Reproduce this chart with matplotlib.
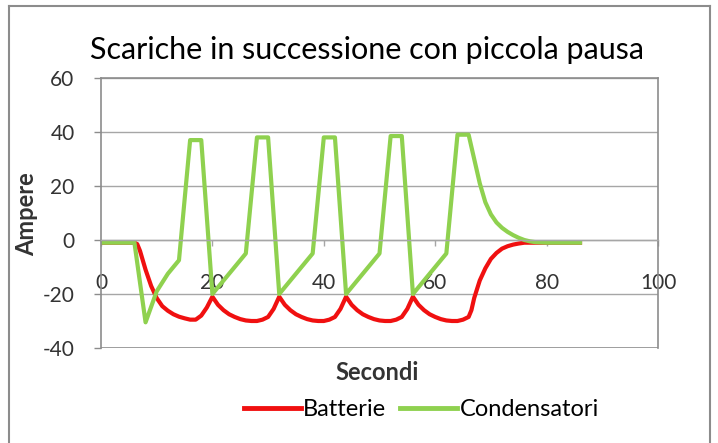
import matplotlib.pyplot as plt
from matplotlib.lines import Line2D

# battery current (red)
t_batt = [0, 2, 4, 6, 6.5, 7, 8, 9, 10, 11, 12, 13, 14, 15, 16, 17, 18, 19, 20,
          21, 22, 23, 24, 25, 26, 27, 28, 29, 30, 31, 32,
          33, 34, 35, 36, 37, 38, 39, 40, 41, 42, 43, 44,
          45, 46, 47, 48, 49, 50, 51, 52, 53, 54, 55, 56,
          57, 58, 59, 60, 61, 62, 63, 64, 65, 66, 66.5, 67, 68, 69, 70, 71, 72, 73, 74, 75, 76,
          78, 80, 82, 84, 86]
i_batt = [-1, -1, -1, -1, -1.5, -4, -11, -17, -21.5, -24.5, -26.2, -27.5, -28.4, -29, -29.5, -29.5, -28, -25, -21,
          -24, -26, -27.5, -28.5, -29.3, -29.8, -30, -30, -29.5, -28.5, -25.5, -21,
          -24, -26, -27.5, -28.5, -29.3, -29.8, -30, -30, -29.5, -28.5, -25.5, -21,
          -24, -26, -27.5, -28.5, -29.3, -29.8, -30, -30, -29.5, -28.5, -25.5, -21,
          -24, -26, -27.5, -28.5, -29.3, -29.8, -30, -30, -29.5, -28.5, -26, -21.5, -15, -10.5, -7, -4.8, -3.2, -2.3, -1.7, -1.3, -1,
          -1, -1, -1, -1, -1]

# capacitor current (green)
t_cond = [0, 2, 4, 6, 8, 10, 12, 14, 16, 18, 20, 26, 28, 30, 32, 38, 40, 42, 44,
          50, 52, 54, 56, 62, 64, 66, 67, 68, 69, 70, 71, 72, 73, 74, 75, 76, 77, 78, 80, 82, 84, 86]
i_cond = [-1, -1, -1, -1, -30.5, -19, -12.5, -7.5, 37, 37, -20, -5, 38, 38, -20, -5, 38, 38, -20,
          -5, 38.5, 38.5, -20, -5, 39, 39, 30, 21, 14, 9.5, 6.5, 4.5, 3, 1.8, 0.8, 0, -0.5, -0.8, -1, -1, -1, -1]

x_ticks = [0, 20, 40, 60, 80, 100]
y_ticks = [-40, -20, 0, 20, 40, 60]

plt.rcParams['font.family'] = ['Lato', 'DejaVu Sans']
plt.rcParams['axes.unicode_minus'] = False

fig = plt.figure(figsize=(7.18, 4.43), dpi=100)
ax = fig.add_axes([101/718, 1-348/443, 557/718, 270/443])

red = '#f01010'
green = '#8fd14f'
grid_c = '#a6a6a6'
txt_c = '#333333'

ax.plot(t_batt, i_batt, color=red, lw=3, solid_joinstyle='round')
ax.plot(t_cond, i_cond, color=green, lw=3, solid_joinstyle='round')

ax.set_xlim(0, 100)
ax.set_ylim(-40, 60)
ax.set_yticks(y_ticks)
ax.set_xticks(x_ticks)
ax.yaxis.grid(True, color=grid_c, lw=1)
ax.set_axisbelow(True)

for s in ['top', 'right', 'left']:
    ax.spines[s].set_color('#8c8c8c')
    ax.spines[s].set_linewidth(1.2)
ax.spines['bottom'].set_position(('data', 0))
ax.spines['bottom'].set_color(grid_c)
ax.spines['bottom'].set_linewidth(1)
ax.axhline(-40, color='#8c8c8c', lw=1.2, zorder=0)

ax.tick_params(axis='y', direction='out', length=5, width=1, color='#8c8c8c',
               labelsize=15, labelcolor=txt_c, pad=14)
ax.tick_params(axis='x', direction='out', length=4, width=1, color=grid_c,
               labelsize=15, labelcolor=txt_c, pad=20)

ax.set_xlabel('Secondi', fontsize=17, fontweight='bold', color=txt_c)
ax.xaxis.set_label_coords(0.495, -0.049)
ax.set_ylabel('Ampere', fontsize=17, fontweight='bold', color=txt_c)
ax.yaxis.set_label_coords(-0.113, 0.495)

fig.text(0.511, 1-50/443, 'Scariche in successione con piccola pausa',
         ha='center', va='center', fontsize=22, color='black')

handles = [Line2D([], [], color=red, lw=3.5), Line2D([], [], color=green, lw=3.5)]
fig.legend(handles, ['Batterie', 'Condensatori'], loc='center',
           bbox_to_anchor=(0.587, 1-410/443), ncol=2, frameon=False, fontsize=17,
           handlelength=2.4, handletextpad=0.1, columnspacing=0.6)

# outer frame
fig.add_artist(Line2D([9/718, 9/718], [0, 1-6/443], color='#8c8c8c', lw=1.5))
fig.add_artist(Line2D([9/718, 710/718], [1-6/443, 1-6/443], color='#8c8c8c', lw=1.5))
fig.add_artist(Line2D([710/718, 710/718], [0, 1-6/443], color='#8c8c8c', lw=1.5))

fig.savefig('out.png', dpi=100)
